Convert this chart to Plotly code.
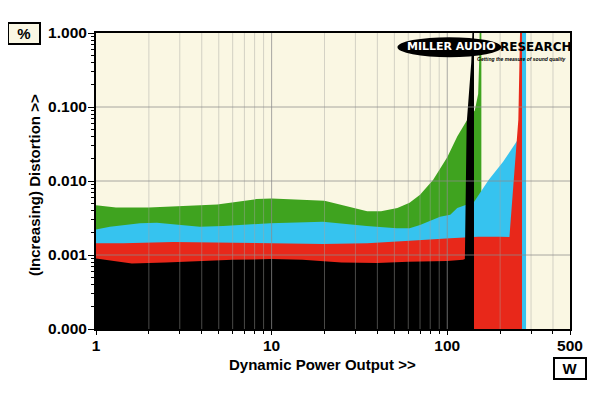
import plotly.graph_objects as go

# ---------------- data ----------------
green_w = [1, 1.3, 2, 3.4, 4.9, 8.2, 10, 20, 35, 42, 52, 61, 70, 83, 100, 114, 130, 143.5, 150, 152, 153, 154, 156.4]
green_v = [0.0047, 0.0044, 0.0044, 0.0046, 0.0048, 0.0057, 0.0058, 0.0054, 0.0039, 0.0039, 0.0043, 0.0051,
           0.0065, 0.0103, 0.021, 0.040, 0.067, 0.09, 0.15, 0.42, 1.5, 3.0, 3.0]

blue_w = [1, 1.2, 1.78, 2.22, 3.9, 5.3, 9.8, 19.6, 34.8, 51.5, 61, 70, 91, 104, 114, 142, 172, 208, 250, 258, 263, 281]
blue_v = [0.00221, 0.00241, 0.00268, 0.00273, 0.00241, 0.00247, 0.00268, 0.00282, 0.00247, 0.0023, 0.0023,
          0.00254, 0.0033, 0.0035, 0.0043, 0.0052, 0.0103, 0.0182, 0.035, 0.05, 3.0, 3.0]

red_w = [1, 1.43, 2.75, 8.2, 19.6, 35, 54, 61, 104, 123, 150, 200, 226, 254, 259, 262, 266.5]
red_v = [0.00144, 0.00144, 0.0015, 0.00146, 0.00141, 0.00144, 0.00151, 0.00156, 0.00168, 0.00173, 0.00177,
         0.00176, 0.00175, 0.067, 0.5, 3.0, 3.0]

black_w = [1, 1.6, 2.5, 4, 6, 10, 15, 25, 40, 60, 100, 123, 126, 129, 137, 140, 142]
black_v = [0.00090, 0.00077, 0.00079, 0.00083, 0.00086, 0.00088, 0.00086, 0.00079, 0.00078, 0.00081, 0.00083,
           0.00086, 0.00088, 0.06, 0.4, 1.5, 3.0]

x_tick_vals = [1, 10, 100, 500]
x_tick_text = ["1", "10", "100", "500"]
x_minor_vals = [2, 3, 4, 5, 6, 7, 8, 9, 20, 30, 40, 50, 60, 70, 80, 90, 200, 300, 400]
x_major_grid = [10, 100]

y_tick_vals = [0.0001, 0.001, 0.01, 0.1, 1]
y_tick_text = ["0.000", "0.001", "0.010", "0.100", "1.000"]
y_minor_vals = [m * d for d in [0.0001, 0.001, 0.01, 0.1] for m in range(2, 10)]
y_major_grid = [0.001, 0.01, 0.1]

FLOOR = 1e-5
X_MIN, X_MAX = 1, 500
Y_MIN, Y_MAX = 0.0001, 1

BG = "#FAF7E3"
FONT = "Liberation Sans, Arial, sans-serif"
LOGO_FONT = "DejaVu Sans, Liberation Sans, sans-serif"

fig = go.Figure()

series = [
    (green_w, green_v, "#3FA31F"),
    (blue_w, blue_v, "#36C3EF"),
    (red_w, red_v, "#E8281A"),
    (black_w, black_v, "#000000"),
]
for xs, ys, col in series:
    px = list(xs) + [xs[-1], xs[0]]
    py = list(ys) + [FLOOR, FLOOR]
    fig.add_trace(go.Scatter(x=px, y=py, mode="lines", fill="toself", fillcolor=col,
                             line=dict(width=0, color=col), hoverinfo="skip", showlegend=False))


def vlines(vals):
    xs, ys = [], []
    for v in vals:
        xs += [v, v, None]
        ys += [Y_MIN, Y_MAX, None]
    return xs, ys


def hlines(vals):
    xs, ys = [], []
    for v in vals:
        xs += [X_MIN, X_MAX, None]
        ys += [v, v, None]
    return xs, ys


gx, gy = vlines(x_minor_vals)
fig.add_trace(go.Scatter(x=gx, y=gy, mode="lines", line=dict(color="rgba(165,165,160,0.45)", width=1),
                         hoverinfo="skip", showlegend=False))
gx, gy = vlines(x_major_grid)
fig.add_trace(go.Scatter(x=gx, y=gy, mode="lines", line=dict(color="rgba(140,140,140,0.75)", width=1),
                         hoverinfo="skip", showlegend=False))
gx, gy = hlines(y_major_grid)
fig.add_trace(go.Scatter(x=gx, y=gy, mode="lines", line=dict(color="rgba(140,140,140,0.75)", width=1),
                         hoverinfo="skip", showlegend=False))

fig.update_xaxes(type="log", range=[0, 2.69897], tickvals=x_tick_vals, ticktext=x_tick_text,
                 ticks="outside", ticklen=4, tickwidth=1, tickcolor="black", ticklabelstandoff=-3,
                 minor=dict(tickvals=x_minor_vals, ticks="outside", ticklen=3, tickcolor="black", showgrid=False),
                 showgrid=False, zeroline=False, showline=True, linecolor="black", linewidth=2, mirror=True,
                 layer="above traces",
                 tickfont=dict(family=FONT, size=15.5, color="black", weight="bold"))
fig.update_yaxes(type="log", range=[-4, 0], tickvals=y_tick_vals, ticktext=y_tick_text,
                 ticks="outside", ticklen=6, tickwidth=1, tickcolor="black", ticklabelstandoff=-2,
                 minor=dict(tickvals=y_minor_vals, ticks="outside", ticklen=3, tickcolor="black", showgrid=False),
                 showgrid=False, zeroline=False, showline=True, linecolor="black", linewidth=2, mirror=True,
                 layer="above traces",
                 tickfont=dict(family=FONT, size=15.5, color="black", weight="bold"))

# logo
fig.add_shape(type="circle", xref="paper", yref="paper", x0=0.636, x1=0.855, y0=0.918, y1=0.986,
              fillcolor="black", line=dict(width=0), layer="above")

annotations = [
    dict(text="MILLER AUDIO", x=0.751, y=0.953, xanchor="center", yanchor="middle",
         font=dict(family=LOGO_FONT, size=11, color="white", weight="bold")),
    dict(text="RESEARCH", x=0.849, y=0.953, xanchor="left", yanchor="middle",
         font=dict(family=LOGO_FONT, size=12, color="black", weight="bold")),
    dict(text="<i>Getting the measure of sound quality</i>", x=0.996, y=0.912, xanchor="right", yanchor="middle",
         font=dict(family=FONT, size=5, color="black", weight="bold")),
    dict(text="Dynamic Power Output >>", x=0.4785, y=-0.1216, xanchor="center", yanchor="middle",
         font=dict(family=FONT, size=15, color="black", weight="bold")),
    dict(text="(Increasing) Distortion >>", x=-0.131, y=0.486, xanchor="center", yanchor="middle",
         textangle=-90, font=dict(family=FONT, size=15, color="black", weight="bold")),
    dict(text="%", x=-0.152, y=0.998, xanchor="center", yanchor="middle", width=30, height=19,
         bgcolor=BG, bordercolor="black", borderwidth=2, borderpad=0,
         font=dict(family=FONT, size=15, color="black", weight="bold")),
    dict(text="W", x=1.001, y=-0.135, xanchor="center", yanchor="middle", width=30, height=19,
         bgcolor="white", bordercolor="black", borderwidth=2, borderpad=0,
         font=dict(family=FONT, size=15, color="black", weight="bold")),
]
for a in annotations:
    a.update(xref="paper", yref="paper", showarrow=False)
fig.update_layout(annotations=annotations)

# the page body has an 8px margin, so the figure is 8px smaller and margins are shifted
fig.update_layout(width=592, height=385, autosize=False,
                  margin=dict(l=88, r=30, t=25, b=64),
                  paper_bgcolor="white", plot_bgcolor=BG,
                  showlegend=False, hovermode=False)

fig.write_html("out.html")
